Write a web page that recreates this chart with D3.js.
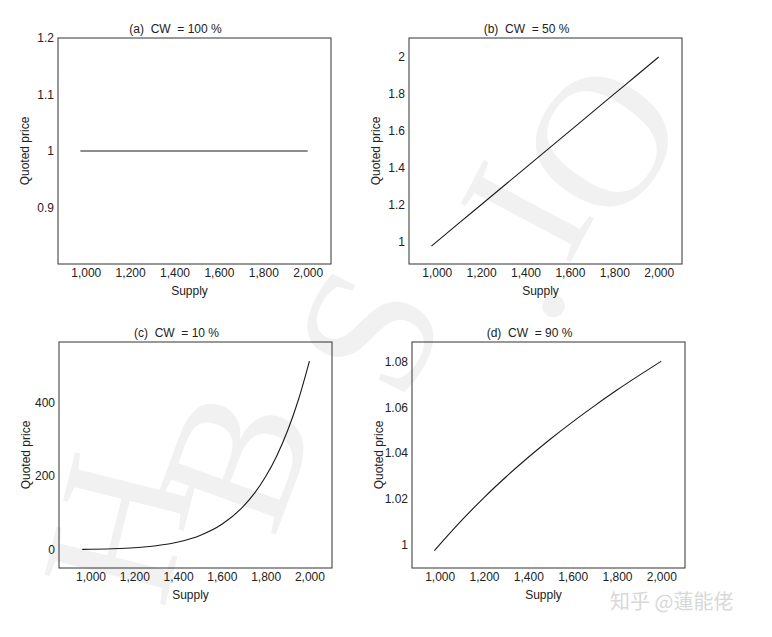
<!DOCTYPE html>
<html>
<head>
<meta charset="utf-8">
<script src="https://cdn.jsdelivr.net/npm/d3@7"></script>
<style>
  body { margin: 0; background: #fff; }
  svg { font-family: "Liberation Sans", Arial, sans-serif; }
</style>
</head>
<body>
<div id="chart"></div>
<script>
// Data
var titles = ["(a)  CW  = 100 %", "(b)  CW  = 50 %", "(c)  CW  = 10 %", "(d)  CW  = 90 %"];
var supply = [976, 1100, 1200, 1300, 1400, 1500, 1600, 1700, 1800, 1900, 2000];
var supplyC = [962, 1100, 1200, 1300, 1400, 1500, 1600, 1700, 1750, 1800, 1850, 1900, 1950, 2000];
var priceA = [1, 1, 1, 1, 1, 1, 1, 1, 1, 1, 1];
var priceB = [0.976, 1.1, 1.2, 1.3, 1.4, 1.5, 1.6, 1.7, 1.8, 1.9, 2.0];
var priceC = [0.7, 2.4, 5.2, 10.6, 20.7, 38.4, 68.7, 118.6, 153.9, 198.4, 253.9, 322.7, 407.7, 512];
var priceD = [0.9973, 1.0106, 1.0205, 1.0296, 1.0381, 1.0461, 1.0536, 1.0607, 1.0675, 1.0739, 1.0801];
var xTicks = [1000, 1200, 1400, 1600, 1800, 2000];
var yTicksA = [0.9, 1, 1.1, 1.2];
var yTicksB = [1, 1.2, 1.4, 1.6, 1.8, 2];
var yTicksC = [0, 200, 400];
var yTicksD = [1, 1.02, 1.04, 1.06, 1.08];

var svgWidth = 772;
var svgHeight = 637;

var svg = d3.select("#chart")
  .append("svg")
  .attr("width", svgWidth)
  .attr("height", svgHeight);

// faint watermark letters behind the plots
var wm = svg.append("g")
  .attr("fill", "#f1f1f1")
  .style("font-family", "'Liberation Serif', 'DejaVu Serif', serif")
  .style("font-size", "190px");
var wmLetters = [
  {t: "H", x: 118, y: 528, r: -76},
  {t: "B", x: 235, y: 458, r: -70},
  {t: "S", x: 368, y: 330, r: -64},
  {t: ".", x: 505, y: 278, r: -60},
  {t: "I", x: 525, y: 210, r: -62},
  {t: "O", x: 600, y: 140, r: -55}
];
wm.selectAll("text")
  .data(wmLetters)
  .enter()
  .append("text")
  .attr("text-anchor", "middle")
  .attr("dy", "0.34em")
  .attr("transform", d => `translate(${d.x},${d.y}) rotate(${d.r})`)
  .text(d => d.t);

// panel boxes (plot frame in pixels)
var panels = [
  {x: 58, y: 38, w: 273, h: 226, sx: supply, sy: priceA, xd: [875, 2105], yd: [0.8, 1.2], yt: yTicksA},
  {x: 409, y: 38, w: 273, h: 226, sx: supply, sy: priceB, xd: [875, 2105], yd: [0.879, 2.103], yt: yTicksB},
  {x: 59, y: 342, w: 273, h: 226, sx: supplyC, sy: priceC, xd: [856, 2103], yd: [-50, 564], yt: yTicksC},
  {x: 412, y: 342, w: 273, h: 226, sx: supply, sy: priceD, xd: [875, 2107], yd: [0.9897, 1.0885], yt: yTicksD}
];

panels.forEach(function(p, i) {
  var g = svg.append("g")
    .attr("transform", `translate(${p.x}, ${p.y})`);

  var xScale = d3.scaleLinear().domain(p.xd).range([0, p.w]);
  var yScale = d3.scaleLinear().domain(p.yd).range([p.h, 0]);

  var bottomAxis = d3.axisBottom(xScale)
    .tickValues(xTicks)
    .tickSize(0)
    .tickPadding(4)
    .tickFormat(d3.format(","));
  var leftAxis = d3.axisLeft(yScale)
    .tickValues(p.yt)
    .tickSize(0)
    .tickPadding(4)
    .tickFormat(d => String(+d.toFixed(2)));

  var bx = g.append("g")
    .attr("transform", `translate(0, ${p.h})`)
    .call(bottomAxis);
  var ly = g.append("g").call(leftAxis);
  [bx, ly].forEach(function(a) {
    a.select(".domain").remove();
    a.selectAll("text")
      .attr("fill", "#222")
      .style("font-size", "12px")
      .style("font-family", "'Liberation Sans', Arial, sans-serif");
  });

  // frame
  g.append("rect")
    .attr("width", p.w)
    .attr("height", p.h)
    .attr("fill", "none")
    .attr("stroke", "#333")
    .attr("stroke-width", 1);

  var pts = p.sx.map((s, k) => [s, p.sy[k]]);
  var line = d3.line()
    .x(d => xScale(d[0]))
    .y(d => yScale(d[1]))
    .curve(d3.curveMonotoneX);

  g.append("path")
    .datum(pts)
    .attr("d", line)
    .attr("fill", "none")
    .attr("stroke", "#1a1a1a")
    .attr("stroke-width", 1.1);

  // title
  g.append("text")
    .attr("x", p.w / 2 - 19)
    .attr("y", -5)
    .attr("text-anchor", "middle")
    .attr("fill", "#222")
    .style("font-size", "12px")
    .style("white-space", "pre")
    .text(titles[i]);

  // axis labels
  g.append("text")
    .attr("x", p.w / 2 - 5)
    .attr("y", p.h + 31)
    .attr("text-anchor", "middle")
    .attr("fill", "#222")
    .style("font-size", "12px")
    .text("Supply");

  g.append("text")
    .attr("transform", `translate(-29, ${p.h / 2}) rotate(-90)`)
    .attr("text-anchor", "middle")
    .attr("fill", "#222")
    .style("font-size", "12px")
    .text("Quoted price");
});

// site watermark bottom right
svg.append("text")
  .attr("x", 610)
  .attr("y", 609)
  .attr("fill", "#d8d8d8")
  .style("font-family", "'Noto Sans CJK SC', sans-serif")
  .style("font-size", "20px")
  .text("知乎 @蓮能佬");
</script>
</body>
</html>
